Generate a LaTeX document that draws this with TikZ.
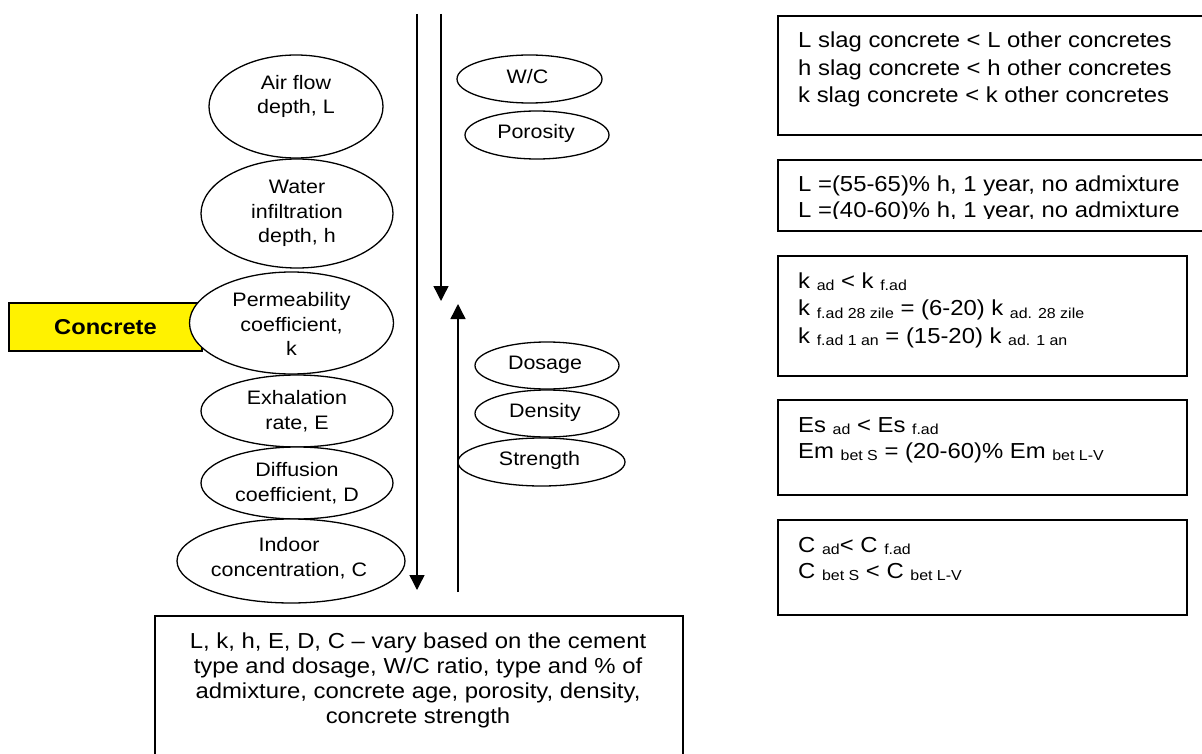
\documentclass[tikz,border=0pt]{standalone}
\usepackage{fontspec}
\setmainfont{Liberation Sans}[FakeStretch=1.1]
\usetikzlibrary{shapes.geometric,arrows.meta}

% lowered, smaller index text
\newcommand{\sbs}[1]{\raisebox{-2.5pt}{\fontsize{14.5pt}{14.5pt}\selectfont #1}}
% left aligned block of lines, first baseline at the anchor
\newcommand{\boxlines}[2]{\parbox[t]{400pt}{\fontsize{21.7pt}{#1}\selectfont #2}}

\begin{document}
\begin{tikzpicture}[x=1pt,y=-1pt,
  oval/.style={ellipse, draw, line width=1.3pt, fill=white, inner sep=0pt},
  etext/.style={inner sep=0pt, align=center, font=\fontsize{19.5pt}{24.5pt}\selectfont},
  infobox/.style={draw, line width=2pt, rectangle, inner sep=0pt, anchor=north west},
  flow/.style={line width=1.4pt, -{Triangle[length=15pt,width=15pt]}},
  boxtext/.style={inner sep=0pt, anchor=base west}]

\useasboundingbox (0,0) rectangle (1202,754);

% material box
\node[draw, line width=1.7pt, fill=yellow, minimum width=193pt, minimum height=48pt,
      inner sep=0pt, font=\bfseries\fontsize{21.5pt}{24pt}\selectfont]
      (concrete) at (105.5,327) {Concrete};

% measured properties
\node[oval, minimum width=174pt, minimum height=103pt,
      label={[etext, yshift=10pt]center:{Air flow\\depth, L}}] (air) at (296,106.5) {};
\node[oval, minimum width=192pt, minimum height=109pt,
      label={[etext]center:{Water\\infiltration\\depth, h}}] (water) at (297,213.5) {};
\node[oval, minimum width=204pt, minimum height=102pt,
      label={[etext, yshift=-1pt]center:{Permeability\\coefficient,\\k}}] (perm) at (291.5,323) {};
\node[oval, minimum width=192pt, minimum height=72pt,
      label={[etext]center:{Exhalation\\rate, E}}] (exh) at (297,411) {};
\node[oval, minimum width=192pt, minimum height=72pt,
      label={[etext]center:{Diffusion\\coefficient, D}}] (diff) at (297,483) {};
\node[oval, minimum width=228pt, minimum height=84pt,
      label={[etext, yshift=3pt, xshift=-2pt]center:{Indoor\\concentration, C}}] (indoor) at (291,561) {};

% influencing factors
\node[oval, minimum width=145pt, minimum height=48pt,
      label={[etext, yshift=2pt, xshift=-2pt]center:{W/C}}] (wc) at (529.5,79) {};
\node[oval, minimum width=144pt, minimum height=48pt,
      label={[etext, yshift=2pt, xshift=-1pt]center:{Porosity}}] (por) at (537,135) {};
\node[oval, minimum width=144pt, minimum height=47pt,
      label={[etext, yshift=1pt, xshift=-2pt]center:{Dosage}}] (dos) at (547,365.5) {};
\node[oval, minimum width=144pt, minimum height=47pt,
      label={[etext, yshift=1pt, xshift=-2pt]center:{Density}}] (den) at (547,413.5) {};
\node[oval, minimum width=167pt, minimum height=48pt,
      label={[etext, yshift=2pt, xshift=-2pt]center:{Strength}}] (str) at (541.5,462) {};

% vertical flow lines
\coordinate (d1top) at (417,14);
\coordinate (d1end) at (417,590);
\coordinate (d2top) at (441,14);
\coordinate (d2end) at (441,301);
\coordinate (u1start) at (458,592);
\coordinate (u1end) at (458,304);
\draw[flow] (d1top) -- (d1end);
\draw[flow] (d2top) -- (d2end);
\draw[flow] (u1start) -- (u1end);

% summary box
\node[infobox, minimum width=528pt, minimum height=145pt] (summary) at (154,615) {};
\node[inner sep=0pt, anchor=base] (summarytext) at (418,648)
  {\parbox[t]{520pt}{\centering\fontsize{21.7pt}{25pt}\selectfont
   L, k, h, E, D, C – vary based on the cement\\
   type and dosage, W/C ratio, type and \% of\\
   admixture, concrete age, porosity, density,\\
   concrete strength}};

% comparison boxes
\node[infobox, minimum width=432pt, minimum height=119pt] (cmp1) at (777,15) {};
\node[boxtext] (cmp1text) at (798,48)
  {\boxlines{27.5pt}{L slag concrete < L other concretes\\
   h slag concrete < h other concretes\\
   k slag concrete < k other concretes}};

\node[infobox, minimum width=432pt, minimum height=71pt] (cmp2) at (777,159) {};
\node[boxtext] (cmp2texta) at (798,192)
  {\fontsize{21.7pt}{26pt}\selectfont L =(55-65)\% h, 1 year, no admixture};
\begin{scope}
  \clip (779,200) rectangle (1202,218.6);
  \node[boxtext] (cmp2textb) at (798,218)
    {\fontsize{21.7pt}{26pt}\selectfont L =(40-60)\% h, 1 year, no admixture};
\end{scope}

\node[infobox, minimum width=409pt, minimum height=120pt] (cmp3) at (777,255) {};
\node[boxtext] (cmp3text) at (798,288)
  {\boxlines{27.5pt}{k \sbs{ad} < k \sbs{f.ad}\\
   k \sbs{f.ad 28 zile} = (6-20) k \sbs{ad. 28 zile}\\
   k \sbs{f.ad 1 an} = (15-20) k \sbs{ad. 1 an}}};

\node[infobox, minimum width=409pt, minimum height=95pt] (cmp4) at (777,399) {};
\node[boxtext] (cmp4text) at (798,432)
  {\boxlines{26pt}{Es \sbs{ad} < Es \sbs{f.ad}\\
   Em \sbs{bet S} = (20-60)\% Em \sbs{bet L-V}}};

\node[infobox, minimum width=409pt, minimum height=95pt] (cmp5) at (777,519) {};
\node[boxtext] (cmp5text) at (798,552)
  {\boxlines{26pt}{C \sbs{ad}< C \sbs{f.ad}\\
   C \sbs{bet S} < C \sbs{bet L-V}}};

\end{tikzpicture}
\end{document}
